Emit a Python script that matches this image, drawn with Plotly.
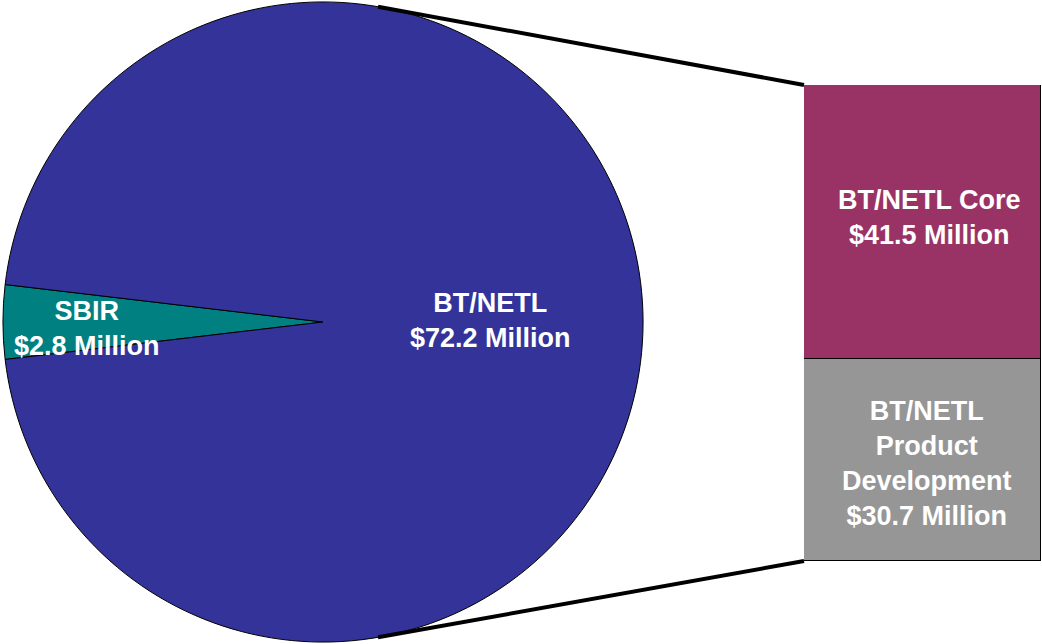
import math
import plotly.graph_objects as go

# ---- data ----
pie_labels = ["SBIR", "BT/NETL"]
pie_values = [2.8, 72.2]
pie_text = ["SBIR<br>$2.8 Million", "BT/NETL<br>$72.2 Million"]

bar_labels = ["BT/NETL Product Development", "BT/NETL Core"]
bar_values = [30.7, 41.5]
bar_text = ["BT/NETL<br>Product<br>Development<br>$30.7 Million", "BT/NETL Core<br>$41.5 Million"]

# ---- styling ----
W, H = 1042, 644
pie_colors = ["#008080", "#333399"]
bar_colors = ["#969696", "#993366"]
FONT = "Liberation Sans, Arial, sans-serif"
FS = 27
label_font = dict(family=FONT, size=FS, color="white", weight="bold")

# pie geometry (pixels)
pie_dom_x = [0, 646 / W]
pie_dom_y = [0.003, 0.997]
cx = (pie_dom_x[0] + pie_dom_x[1]) / 2 * W
cy = H - (pie_dom_y[0] + pie_dom_y[1]) / 2 * H
r = min((pie_dom_x[1] - pie_dom_x[0]) * W, (pie_dom_y[1] - pie_dom_y[0]) * H) / 2

total = sum(pie_values)
sbir_span = pie_values[0] / total * 360
rotation = 270 - sbir_span / 2 - 360  # clockwise from 12 o'clock

# bar geometry
bar_dom_x = [804 / W, 1041 / W]
bar_dom_y = [(H - 561) / H, (H - 85) / H]

fig = go.Figure()
fig.add_trace(go.Pie(
    labels=pie_labels, values=pie_values, sort=False, direction="clockwise",
    rotation=rotation, textinfo="none", hoverinfo="label+value",
    marker=dict(colors=pie_colors, line=dict(color="black", width=1)),
    domain=dict(x=pie_dom_x, y=pie_dom_y), showlegend=False,
))

for lab, val, col in zip(bar_labels, bar_values, bar_colors):
    fig.add_trace(go.Bar(
        x=[0], y=[val], width=[1], name=lab, hoverinfo="name+y",
        marker=dict(color=col, line=dict(color="black", width=1.5)),
        xaxis="x", yaxis="y", showlegend=False,
    ))

annotations = []
# pie labels
for txt, px, py in [(pie_text[0], 87, 328), (pie_text[1], 490, 320)]:
    annotations.append(dict(text=txt, x=px / W, y=1 - py / H, xref="paper", yref="paper",
                            showarrow=False, align="center", xanchor="center",
                            yanchor="middle", font=label_font))
# bar labels at segment midpoints
base = 0
for txt, val, ysh, xsh in zip(bar_text, bar_values, [-4, 4], [4, 7]):
    annotations.append(dict(text=txt, x=0, y=base + val / 2, xref="x", yref="y",
                            yshift=ysh, xshift=xsh, showarrow=False, align="center",
                            xanchor="center", yanchor="middle", font=label_font))
    base += val

# connector lines from pie edge to bar corners
conn_angle = math.radians(9.9)
top_start = (cx + r * math.sin(conn_angle), cy - r * math.cos(conn_angle))
bot_start = (cx + r * math.sin(conn_angle), cy + r * math.cos(conn_angle))
bar_left = bar_dom_x[0]
shapes = [
    dict(type="line", xref="paper", yref="paper",
         x0=top_start[0] / W, y0=1 - top_start[1] / H, x1=bar_left, y1=bar_dom_y[1],
         line=dict(color="black", width=4)),
    dict(type="line", xref="paper", yref="paper",
         x0=bot_start[0] / W, y0=1 - bot_start[1] / H, x1=bar_left, y1=bar_dom_y[0],
         line=dict(color="black", width=4)),
]

fig.update_layout(
    width=W, height=H, margin=dict(l=0, r=0, t=0, b=0),
    paper_bgcolor="white", plot_bgcolor="rgba(0,0,0,0)",
    barmode="stack", bargap=0,
    xaxis=dict(domain=bar_dom_x, range=[-0.5, 0.5], visible=False, fixedrange=True),
    yaxis=dict(domain=bar_dom_y, range=[0, sum(bar_values)], visible=False, fixedrange=True),
    annotations=annotations, shapes=shapes,
)

fig.write_html(
    "out.html",
    config=dict(displayModeBar=False),
    post_script="document.body.style.margin='0';document.body.style.padding='0';"
                "document.body.style.overflow='hidden';",
)
